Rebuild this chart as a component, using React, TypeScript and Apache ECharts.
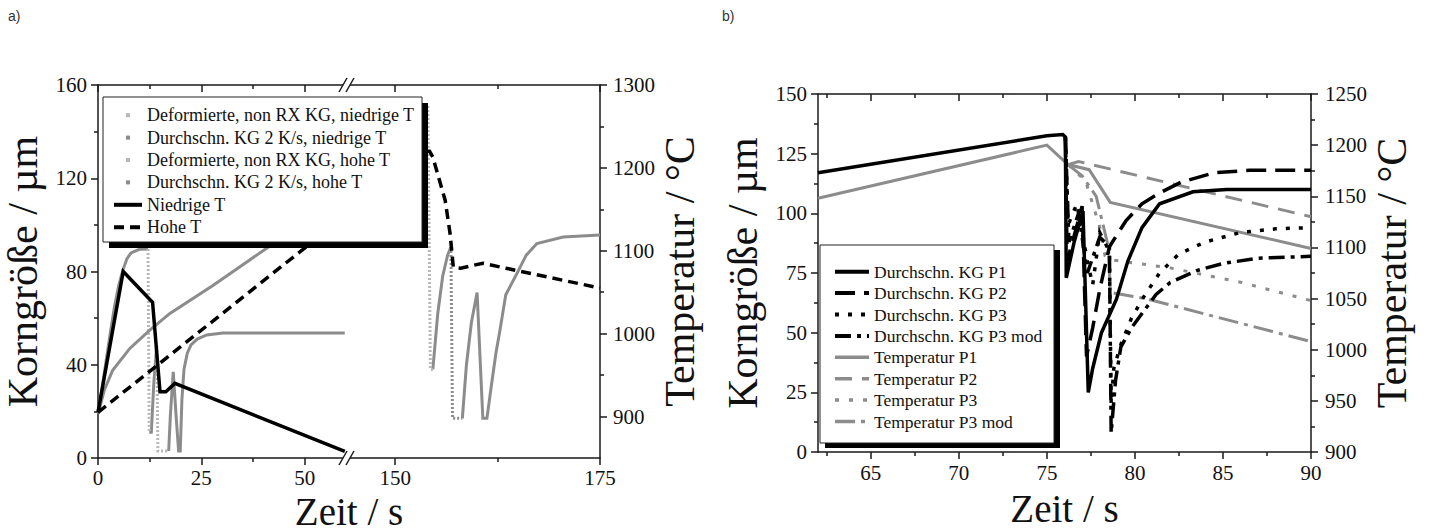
import React, { useEffect, useRef } from 'react';
import * as echarts from 'echarts';

// ---------------- Panel a) data (time s, grain µm / temperature °C) ----------------
const A_LOW_T = [[0, 905], [6.1, 1075], [12.6, 1041], [13.2, 1038], [15.0, 930], [16.4, 930], [18.6, 940], [59.7, 858]];
const A_HIGH_T_1 = [[0, 905], [60, 1143]];
const A_HIGH_T_2 = [[144, 1220], [154.2, 1220], [154.6, 1213], [156.1, 1161], [156.7, 1121], [157.1, 1080], [158, 1079], [160.7, 1085], [163.5, 1079], [175, 1055]];

const A_LOW_AVG_1 = [[0, 20], [1, 30], [2, 42], [3, 54], [4, 65], [5, 74], [6, 80.5], [7, 85.5], [8, 88], [10, 89.5], [12.1, 89.7]];
const A_LOW_AVG_2 = [[12.4, 11], [12.9, 11], [13.5, 32], [14.2, 48]];
const A_LOW_AVG_3 = [[17.1, 3], [17.5, 18], [18.2, 37], [18.9, 18], [19.5, 3], [19.9, 3], [20.3, 25], [20.8, 38], [21.6, 45], [22.5, 48.5], [24, 51], [26.3, 52.8], [30.2, 53.6], [59.7, 53.6]];
const A_LOW_DEF_1 = [[12.1, 89.7], [12.4, 11]];
const A_LOW_DEF_2 = [[14.2, 48], [14.5, 3], [17.1, 3]];

const A_HIGH_AVG_1 = [[0, 19], [0.5, 22], [1.5, 29], [3.5, 37.5], [7.7, 47], [12.6, 55], [17.4, 62], [27.8, 74], [40.8, 90], [60, 113]];
const A_HIGH_AVG_2 = [[144, 140], [154.0, 151]];
const A_HIGH_AVG_3 = [[154.6, 38], [155.2, 62], [155.8, 78], [156.4, 87], [156.8, 90.5]];
const A_HIGH_AVG_4 = [[158.2, 17], [158.7, 40], [159.3, 58], [160.0, 71], [160.4, 40], [160.7, 17], [161.2, 17], [161.7, 30], [162.3, 45], [162.8, 55], [163.5, 70], [164.9, 79.4], [166, 87], [167.3, 92], [170.5, 94.8], [175, 95.7]];
const A_HIGH_DEF_1 = [[154.0, 151], [154.3, 38], [154.6, 38]];
const A_HIGH_DEF_2 = [[156.8, 90.5], [157.0, 17], [158.2, 17]];

const A_X1_MAJOR = [0, 25, 50];
const A_X1_MINOR = [12.5, 37.5];
const A_X2_MAJOR = [150, 175];
const A_X2_MINOR = [162.5];
const A_Y_MAJOR = [0, 40, 80, 120, 160];
const A_Y_MINOR = [20, 60, 100, 140];
const A_T_MAJOR = [900, 1000, 1100, 1200, 1300];
const A_T_MINOR = [950, 1050, 1150, 1250];

// ---------------- Panel b) data ----------------
const B_KG_P1 = [[62, 117], [75.0, 132.5], [75.9, 133], [76.05, 132], [76.1, 73], [76.55, 88], [77.05, 101], [77.35, 25], [77.6, 35], [78.1, 50], [78.95, 64], [79.6, 80], [80.4, 94], [81.4, 104], [83.3, 109], [85.2, 110], [90, 110]];
const B_KG_P2 = [[76.05, 132], [76.15, 80], [76.6, 92], [77.0, 103], [77.25, 40], [77.6, 52], [78.0, 68], [78.55, 86], [79.5, 97], [80.4, 104], [81.4, 108.5], [82.6, 113], [84.5, 117], [86.5, 118], [90, 118]];
const B_KG_P3 = [[76.05, 132], [76.2, 95], [76.7, 104], [77.3, 80], [77.6, 70], [78.0, 92], [78.55, 84], [78.65, 20], [78.8, 35], [79.2, 45], [79.8, 56], [80.5, 65], [81.4, 75], [82.5, 83], [84, 88], [86, 92], [88, 93.5], [90, 94]];
const B_KG_P3MOD = [[76.05, 132], [76.25, 88], [76.8, 100], [77.3, 75], [78.0, 90], [78.55, 86], [78.65, 8], [78.9, 30], [79.2, 44], [79.8, 52], [80.4, 58], [81.2, 66], [82, 71], [83.5, 76], [85, 79], [87, 81.2], [90, 82]];
const B_T_P1 = [[62, 1148], [75.0, 1200], [76.2, 1181], [77.4, 1176], [78.6, 1144], [90, 1099]];
const B_T_P2 = [[76.2, 1181], [76.8, 1184], [90, 1130]];
const B_T_P3 = [[76.2, 1181], [77.2, 1165], [78.0, 1120], [78.3, 1092], [78.6, 1088], [82, 1080], [86, 1066], [90, 1048]];
const B_T_P3MOD = [[76.2, 1181], [77.0, 1170], [77.8, 1150], [78.5, 1100], [78.6, 1056], [80.6, 1050], [90, 1008]];

const B_X_MAJOR = [65, 70, 75, 80, 85, 90];
const B_X_MINOR = [62.5, 67.5, 72.5, 77.5, 82.5, 87.5];
const B_Y_MAJOR = [0, 25, 50, 75, 100, 125, 150];
const B_Y_MINOR = [12.5, 37.5, 62.5, 87.5, 112.5, 137.5];
const B_T_MAJOR = [900, 950, 1000, 1050, 1100, 1150, 1200, 1250];
const B_T_MINOR = [925, 975, 1025, 1075, 1125, 1175, 1225];

const LEG_A = ['Deformierte, non RX KG, niedrige T', 'Durchschn. KG 2 K/s, niedrige T', 'Deformierte, non RX KG, hohe T', 'Durchschn. KG 2 K/s, hohe T', 'Niedrige T', 'Hohe T'];
const LEG_B = ['Durchschn. KG P1', 'Durchschn. KG P2', 'Durchschn. KG P3', 'Durchschn. KG P3 mod', 'Temperatur P1', 'Temperatur P2', 'Temperatur P3', 'Temperatur P3 mod'];

const FONT = '"Liberation Serif", "Times New Roman", serif';
const AX = '#1a1a1a';
const GRAY = '#8c8c8c';
const LGRAY = '#b8b8b8';
const fmt = (v: number) => String(v);

function xPair(grid: number, pos: string, min: number, max: number, majors: number[], minors: number[], labels: boolean, inside: boolean, margin = 10) {
  const ls = { color: AX, width: 1.5 };
  return [
    {
      type: 'value', gridIndex: grid, position: pos, min, max,
      axisLine: { show: true, onZero: false, lineStyle: ls },
      axisTick: { show: true, inside, length: 7, customValues: majors, lineStyle: ls },
      axisLabel: labels ? { show: true, customValues: majors, formatter: fmt, fontSize: 21, color: '#111', margin, fontFamily: FONT } : { show: false },
      splitLine: { show: false },
    },
    {
      type: 'value', gridIndex: grid, position: pos, min, max,
      axisLine: { show: false, onZero: false },
      axisTick: { show: true, inside, length: 4, customValues: minors, lineStyle: ls },
      axisLabel: { show: false }, splitLine: { show: false },
    },
  ];
}

function yPair(grid: number, pos: string, min: number, max: number, majors: number[], minors: number[], margin: number, name: string, nameGap: number) {
  const ls = { color: AX, width: 1.5 };
  return [
    {
      type: 'value', gridIndex: grid, position: pos, min, max,
      name, nameLocation: 'middle', nameGap,
      nameTextStyle: { fontSize: 42, fontFamily: FONT, color: '#111' },
      axisLine: { show: true, onZero: false, lineStyle: ls },
      axisTick: { show: true, inside: false, length: 7, customValues: majors, lineStyle: ls },
      axisLabel: { show: true, customValues: majors, formatter: fmt, fontSize: 21, color: '#111', margin, fontFamily: FONT },
      splitLine: { show: false },
    },
    {
      type: 'value', gridIndex: grid, position: pos, min, max,
      axisLine: { show: false, onZero: false },
      axisTick: { show: true, inside: false, length: 4, customValues: minors, lineStyle: ls },
      axisLabel: { show: false }, splitLine: { show: false },
    },
  ];
}

function line(name: string, data: number[][], xi: number, yi: number, color: string, width: number, dash?: any) {
  return {
    type: 'line', name, data, xAxisIndex: xi, yAxisIndex: yi,
    symbol: 'none', showSymbol: false, silent: true, clip: true,
    lineStyle: { color, width, type: dash ?? 'solid', cap: 'butt', join: 'miter' },
    itemStyle: { color },
  };
}

function buildOption() {
  const xAxis = [
    ...xPair(0, 'bottom', 0, 60, A_X1_MAJOR, A_X1_MINOR, true, false, 9),
    ...xPair(0, 'top', 0, 60, A_X1_MAJOR, A_X1_MINOR, false, true),
    ...xPair(1, 'bottom', 144, 175, A_X2_MAJOR, A_X2_MINOR, true, false, 9),
    ...xPair(1, 'top', 144, 175, A_X2_MAJOR, A_X2_MINOR, false, true),
    ...xPair(2, 'bottom', 62, 90, B_X_MAJOR, B_X_MINOR, true, false, 10),
    ...xPair(2, 'top', 62, 90, B_X_MAJOR, B_X_MINOR, false, true),
  ];
  (xAxis[8] as any).name = 'Zeit / s';
  (xAxis[8] as any).nameLocation = 'middle';
  (xAxis[8] as any).nameGap = 37;
  (xAxis[8] as any).nameTextStyle = { fontSize: 39, fontFamily: FONT, color: '#111' };

  const yAxis = [
    ...yPair(0, 'left', 0, 160, A_Y_MAJOR, A_Y_MINOR, 11, 'Korngröße / µm', 54),
    { type: 'value', gridIndex: 0, min: 850, max: 1300, show: false },
    { type: 'value', gridIndex: 1, min: 0, max: 160, show: false },
    ...yPair(1, 'right', 850, 1300, A_T_MAJOR, A_T_MINOR, 13, 'Temperatur / °C', 53),
    ...yPair(2, 'left', 0, 150, B_Y_MAJOR, B_Y_MINOR, 11, 'Korngröße / µm', 54),
    ...yPair(2, 'right', 900, 1250, B_T_MAJOR, B_T_MINOR, 14, 'Temperatur / °C', 58),
  ];

  const series = [
    // panel a, grain (grid 0: x0/y0, grid 1: x4/y3)
    line(LEG_A[1], A_LOW_AVG_1, 0, 0, GRAY, 3),
    line(LEG_A[1], A_LOW_AVG_2, 0, 0, GRAY, 3),
    line(LEG_A[1], A_LOW_AVG_3, 0, 0, GRAY, 3),
    line(LEG_A[0], A_LOW_DEF_1, 0, 0, LGRAY, 3, [2, 2]),
    line(LEG_A[0], A_LOW_DEF_2, 0, 0, LGRAY, 3, [2, 2]),
    line(LEG_A[3], A_HIGH_AVG_1, 0, 0, GRAY, 3),
    line(LEG_A[3], A_HIGH_AVG_2, 4, 3, GRAY, 3),
    line(LEG_A[3], A_HIGH_AVG_3, 4, 3, GRAY, 3),
    line(LEG_A[3], A_HIGH_AVG_4, 4, 3, GRAY, 3),
    line(LEG_A[2], A_HIGH_DEF_1, 4, 3, LGRAY, 3, [2, 2]),
    line(LEG_A[2], A_HIGH_DEF_2, 4, 3, GRAY, 3, [2, 2]),
    // panel a, temperature
    line(LEG_A[4], A_LOW_T, 0, 2, '#000', 3.5),
    line(LEG_A[5], A_HIGH_T_1, 0, 2, '#000', 3.5, [10, 6]),
    line(LEG_A[5], A_HIGH_T_2, 4, 4, '#000', 3.5, [10, 6]),
    // panel b temperature (x8, y8)
    line(LEG_B[4], B_T_P1, 8, 8, GRAY, 3),
    line(LEG_B[5], B_T_P2, 8, 8, GRAY, 3, [17, 10]),
    line(LEG_B[6], B_T_P3, 8, 8, GRAY, 3, [4, 10]),
    line(LEG_B[7], B_T_P3MOD, 8, 8, GRAY, 3, [20, 6, 4, 6]),
    // panel b grain (x8, y6)
    line(LEG_B[0], B_KG_P1, 8, 6, '#000', 3.5),
    line(LEG_B[1], B_KG_P2, 8, 6, '#000', 3.5, [20, 9]),
    line(LEG_B[2], B_KG_P3, 8, 6, '#000', 3.5, [4, 9]),
    line(LEG_B[3], B_KG_P3MOD, 8, 6, '#000', 3.5, [16, 6, 4, 6]),
  ];

  const sq = 'path://M0 0M10 10M3.3 3.3h3.4v3.4h-3.4z';
  const legA = LEG_A.map((n, i) =>
    i < 4
      ? { name: n, icon: sq, itemStyle: { opacity: 1, borderWidth: 0, color: i % 2 === 0 ? LGRAY : GRAY } }
      : { name: n, lineStyle: { width: 4 } }
  );
  const legB = LEG_B.map((n, i) => ({ name: n, lineStyle: { width: i < 4 ? 4 : 3.5 } }));

  const sans = '"Liberation Sans", Arial, sans-serif';
  const slash = (x1: number, y1: number, x2: number, y2: number) => ({
    type: 'line', z: 20, shape: { x1, y1, x2, y2 }, style: { stroke: AX, lineWidth: 1.5 },
  });

  return {
    animation: false,
    backgroundColor: '#fff',
    textStyle: { fontFamily: FONT, color: '#111' },
    grid: [
      { left: 98, top: 85, width: 248, height: 373, outerBoundsMode: 'none' },
      { left: 346, top: 85, width: 254, height: 373, outerBoundsMode: 'none' },
      { left: 818, top: 94, width: 493, height: 358, outerBoundsMode: 'none' },
    ],
    xAxis,
    yAxis,
    legend: [
      {
        data: legA, orient: 'vertical', left: 112, top: 104, padding: 0, itemGap: 0,
        itemWidth: 28, itemHeight: 12, selectedMode: false, z: 30,
        itemStyle: { opacity: 0 },
        textStyle: { fontSize: 18, lineHeight: 22.4, fontFamily: FONT, color: '#111' },
      },
      {
        data: legB, orient: 'vertical', left: 833, top: 261, padding: 0, itemGap: 0,
        itemWidth: 34, itemHeight: 12, selectedMode: false, z: 30,
        itemStyle: { opacity: 0 },
        textStyle: { fontSize: 17.5, lineHeight: 21.4, fontFamily: FONT, color: '#111' },
      },
    ],
    graphic: [
      { type: 'text', x: 8, y: 9, z: 20, style: { text: 'a)', fontSize: 14, fontFamily: sans, fill: '#333' } },
      { type: 'text', x: 722, y: 9, z: 20, style: { text: 'b)', fontSize: 14, fontFamily: sans, fill: '#333' } },
      { type: 'rect', z: 25, shape: { x: 109, y: 103, width: 319, height: 145 }, style: { fill: '#000' } },
      { type: 'rect', z: 26, shape: { x: 103, y: 97, width: 319, height: 145 }, style: { fill: '#fff', stroke: '#222', lineWidth: 1 } },
      { type: 'rect', z: 25, shape: { x: 825, y: 250, width: 235, height: 198 }, style: { fill: '#000' } },
      { type: 'rect', z: 26, shape: { x: 820, y: 245, width: 234, height: 198 }, style: { fill: '#fff', stroke: '#222', lineWidth: 1 } },
      { type: 'rect', z: 19, shape: { x: 343, y: 455, width: 7, height: 6 }, style: { fill: '#fff' } },
      { type: 'rect', z: 19, shape: { x: 343, y: 82, width: 7, height: 6 }, style: { fill: '#fff' } },
      slash(339, 465, 347, 451), slash(346, 465, 354, 451),
      slash(339, 92, 347, 78), slash(346, 92, 354, 78),
      {
        type: 'text', x: 349, y: 511, z: 20,
        style: { text: 'Zeit / s', fontSize: 39, fontFamily: FONT, fill: '#111', textAlign: 'center', textVerticalAlign: 'middle' },
      },
    ],
    series,
  };
}

export default function App() {
  const ref = useRef<HTMLDivElement>(null);
  useEffect(() => {
    const chart = echarts.init(ref.current!, null, { renderer: 'svg' });
    chart.setOption(buildOption() as any);
    return () => chart.dispose();
  }, []);
  return <div ref={ref} style={{ position: 'fixed', left: 0, top: 0, width: 1431, height: 532, background: '#fff' }} />;
}
